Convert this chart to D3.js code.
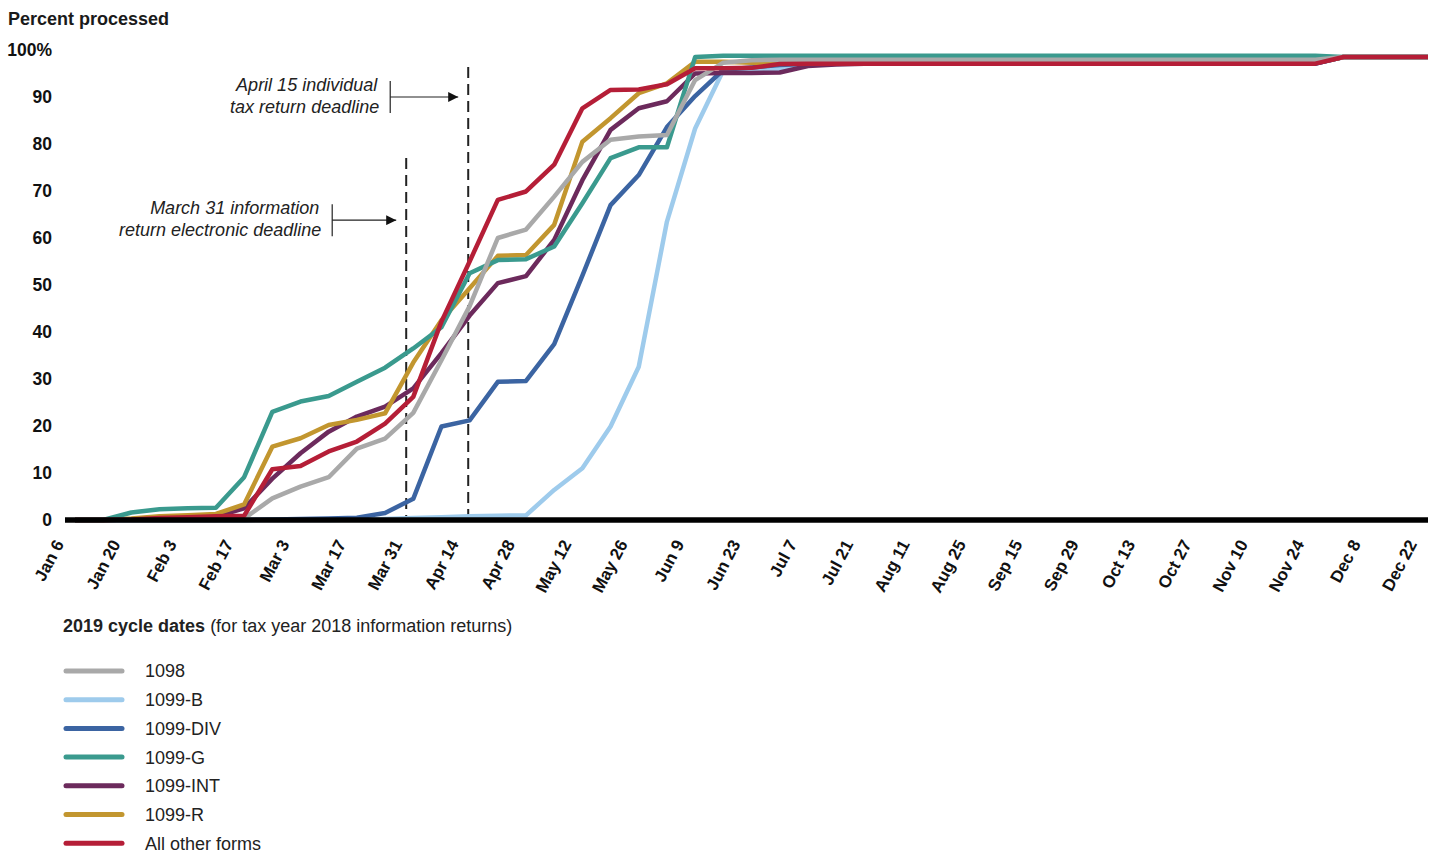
<!DOCTYPE html>
<html><head><meta charset="utf-8">
<script src="https://cdn.jsdelivr.net/npm/d3@7"></script>
<style>
body{margin:0;background:#fff;}
svg{display:block;font-family:"Liberation Sans",Arial,Helvetica,sans-serif;}
</style>
</head><body>
<svg id="chart" width="1439" height="853"></svg>
<script>
// ---- DATA ----
const categories = ["Jan 6","Jan 13","Jan 20","Jan 27","Feb 3","Feb 10","Feb 17","Feb 24","Mar 3","Mar 10",
  "Mar 17","Mar 24","Mar 31","Apr 7","Apr 14","Apr 21","Apr 28","May 5","May 12","May 19",
  "May 26","Jun 2","Jun 9","Jun 16","Jun 23","Jun 30","Jul 7","Jul 14","Jul 21","Aug 4",
  "Aug 11","Aug 18","Aug 25","Sep 8","Sep 15","Sep 22","Sep 29","Oct 6","Oct 13","Oct 20",
  "Oct 27","Nov 3","Nov 10","Nov 17","Nov 24","Dec 1","Dec 8","Dec 15","Dec 22"];
const tickLabels = ["Jan 6","Jan 20","Feb 3","Feb 17","Mar 3","Mar 17","Mar 31","Apr 14","Apr 28","May 12",
  "May 26","Jun 9","Jun 23","Jul 7","Jul 21","Aug 11","Aug 25","Sep 15","Sep 29","Oct 13",
  "Oct 27","Nov 10","Nov 24","Dec 8","Dec 22"];
const yTicks = [0,10,20,30,40,50,60,70,80,90,100];

const v1098 = [0,0,0,0,0,0,0.3,4.6,7.1,9.1,15.2,17.3,22.8,34,45.5,60,61.8,68.8,76.2,80.9,81.6,81.9,93.6,97.3,97.8,97.95,
  97.95,97.95,97.95,97.95,97.95,97.95,97.95,97.95,97.95,97.95,97.95,97.95,97.95,97.95,97.95,97.95,97.95,97.95,97.95,98.5,98.5,98.5,98.5];
const v1099B = [0,0,0,0,0,0,0,0,0,0,0.1,0.2,0.4,0.6,0.8,0.9,1.0,6.4,11,19.9,32.6,63.5,83.3,95.7,95.8,96,97,
  97.1,97.1,97.1,97.1,97.1,97.1,97.1,97.1,97.1,97.1,97.1,97.1,97.1,97.1,97.1,97.1,97.1,97.1,98.5,98.5,98.5,98.5];
const v1099DIV = [0,0,0,0,0,0,0,0.1,0.2,0.3,0.5,1.5,4.5,19.9,21.2,29.4,29.6,37.4,52,67,73.4,83.6,90.2,95.8,96.3,96.8,
  97.1,97.1,97.1,97.1,97.1,97.1,97.1,97.1,97.1,97.1,97.1,97.1,97.1,97.1,97.1,97.1,97.1,97.1,97.1,98.5,98.5,98.5,98.5];
const v1099G = [0,0,1.6,2.3,2.5,2.6,9.1,23.0,25.2,26.4,29.4,32.4,36.5,41,52.5,55.3,55.5,58.2,67.4,77,79.3,79.3,98.5,
  98.8,98.8,98.8,98.8,98.8,98.8,98.8,98.8,98.8,98.8,98.8,98.8,98.8,98.8,98.8,98.8,98.8,98.8,98.8,98.8,98.8,98.8,98.5,98.5,98.5,98.5];
const v1099INT = [0,0,0.1,0.3,0.5,0.7,2.5,8.8,14.2,18.8,22,24.1,28,35.5,43.5,50.4,51.9,59.6,72.3,83,87.6,89.1,95,95.1,95.1,95.2,
  96.6,96.9,97.1,97.1,97.1,97.1,97.1,97.1,97.1,97.1,97.1,97.1,97.1,97.1,97.1,97.1,97.1,97.1,97.1,98.5,98.5,98.5,98.5];
const v1099R = [0,0,0.3,0.8,1.0,1.3,3.3,15.6,17.4,20.2,21.3,22.7,33.5,42.5,49.3,56.2,56.4,62.8,80.5,85.5,90.8,92.9,97.5,97.5,
  97.3,97.3,97.3,97.3,97.3,97.3,97.3,97.3,97.3,97.3,97.3,97.3,97.3,97.3,97.3,97.3,97.3,97.3,97.3,97.3,97.3,98.5,98.5,98.5,98.5];
const vOther = [0,0,0.1,0.4,0.6,0.8,0.9,10.8,11.5,14.6,16.7,20.5,26.2,42.2,55,68.1,69.9,75.6,87.6,91.5,91.6,92.7,96.1,96.1,96.2,97.0,
  97.1,97.1,97.1,97.1,97.1,97.1,97.1,97.1,97.1,97.1,97.1,97.1,97.1,97.1,97.1,97.1,97.1,97.1,97.1,98.5,98.5,98.5,98.5];

const seriesNames = ["1098","1099-B","1099-DIV","1099-G","1099-INT","1099-R","All other forms"];
const seriesValues = [v1098, v1099B, v1099DIV, v1099G, v1099INT, v1099R, vOther];
const seriesColors = ["#a9a9a9","#9ecbec","#3b64a2","#3a9a8e","#6c2a5c","#c2962f","#b51e37"];
const drawOrder = [1, 2, 4, 5, 3, 0, 6];

// deadline annotations (position in category-index units, values in percent)
const deadlineText = [["March 31 information","return electronic deadline"],["April 15 individual","tax return deadline"]];
const deadlineAt = [11.75, 13.95];
const deadlineTop = [77, 96.4];
const deadlineArrow = [63.8, 90];

// ---- CHART ----
const svg = d3.select("#chart");
const x = d3.scalePoint().domain(d3.range(categories.length)).range([75, 1428]);
const xf = d3.scaleLinear().domain([0, categories.length - 1]).range([75, 1428]);
const y = d3.scaleLinear().domain([0, 100]).range([520, 50]);

// title
svg.append("text").attr("x", 8).attr("y", 25).attr("font-size", 18).attr("font-weight", "bold")
  .attr("fill", "#1a1a1a").text("Percent processed");

// y axis
const yAxis = d3.axisLeft(y).tickValues(yTicks).tickSize(0).tickPadding(0)
  .tickFormat(d => d === 100 ? "100%" : d);
const gy = svg.append("g").attr("transform", "translate(52,0)").call(yAxis);
gy.select(".domain").remove();
gy.selectAll("text").attr("font-size", 17.5).attr("font-weight", "bold").attr("fill", "#111")
  .attr("font-family", "'Liberation Sans',Arial,sans-serif");

// dashed deadline lines
deadlineAt.forEach((d, i) => {
  svg.append("line").attr("x1", xf(d)).attr("x2", xf(d)).attr("y1", y(deadlineTop[i])).attr("y2", y(0))
    .attr("stroke", "#222").attr("stroke-width", 2).attr("stroke-dasharray", "11,6");
});

// series lines
const line = d3.line().x((d, i) => x(i)).y(d => y(d)).curve(d3.curveLinear);
drawOrder.forEach(i => {
  svg.append("path").datum(seriesValues[i]).attr("d", line).attr("fill", "none")
    .attr("stroke", seriesColors[i]).attr("stroke-width", 4.5)
    .attr("stroke-linejoin", "round");
});

// x axis (thick black base line)
svg.append("line").attr("x1", 65).attr("x2", x(categories.length - 1))
  .attr("y1", y(0)).attr("y2", y(0)).attr("stroke", "#000").attr("stroke-width", 5.5);

const xAxis = d3.axisBottom(x).tickSize(0)
  .tickValues(d3.range(categories.length).filter(i => tickLabels.includes(categories[i])))
  .tickFormat(i => categories[i]);
const gx = svg.append("g").attr("transform", `translate(0,${y(0)})`).call(xAxis);
gx.select(".domain").remove();
gx.selectAll("text")
  .attr("font-size", 17).attr("font-weight", "bold").attr("fill", "#111")
  .attr("font-family", "'Liberation Sans',Arial,sans-serif")
  .attr("text-anchor", "end").attr("dy", null).attr("y", 0)
  .attr("transform", "translate(-11,24) rotate(-62)");

// annotations
const arrowDefs = svg.append("defs");
arrowDefs.append("marker").attr("id", "arr").attr("viewBox", "0 0 10 10").attr("refX", 10).attr("refY", 5)
  .attr("markerWidth", 11).attr("markerHeight", 10).attr("markerUnits", "userSpaceOnUse").attr("orient", "auto")
  .append("path").attr("d", "M0,0 L10,5 L0,10 Z").attr("fill", "#111");

const barOffset = [74, 78];
deadlineAt.forEach((d, i) => {
  const lx = xf(d);
  const ay = y(deadlineArrow[i]);
  const bx = lx - barOffset[i];
  svg.append("line").attr("x1", bx).attr("x2", bx).attr("y1", ay - 16).attr("y2", ay + 16)
    .attr("stroke", "#222").attr("stroke-width", 1.2);
  svg.append("line").attr("x1", bx).attr("x2", lx - 10).attr("y1", ay).attr("y2", ay)
    .attr("stroke", "#222").attr("stroke-width", 1.2).attr("marker-end", "url(#arr)");
  const t = svg.append("text").attr("x", bx - 13).attr("y", ay - 6).attr("text-anchor", "end")
    .attr("font-size", 18).attr("font-style", "italic").attr("fill", "#222");
  t.append("tspan").attr("x", bx - 13).attr("dy", 0).text(deadlineText[i][0]);
  t.append("tspan").attr("x", bx - 11).attr("dy", 22).text(deadlineText[i][1]);
});

// legend
const lg = svg.append("g");
const legTitle = lg.append("text").attr("x", 63).attr("y", 632).attr("font-size", 18).attr("fill", "#222");
legTitle.append("tspan").attr("font-weight", "bold").text("2019 cycle dates");
legTitle.append("tspan").text(" (for tax year 2018 information returns)");
seriesNames.forEach((n, i) => {
  const ly = 671 + i * 28.7;
  lg.append("line").attr("x1", 66).attr("x2", 122).attr("y1", ly).attr("y2", ly)
    .attr("stroke", seriesColors[i]).attr("stroke-width", 5).attr("stroke-linecap", "round");
  lg.append("text").attr("x", 145).attr("y", ly).attr("dy", "0.36em").attr("font-size", 18)
    .attr("fill", "#222").text(n);
});
</script>
</body></html>
